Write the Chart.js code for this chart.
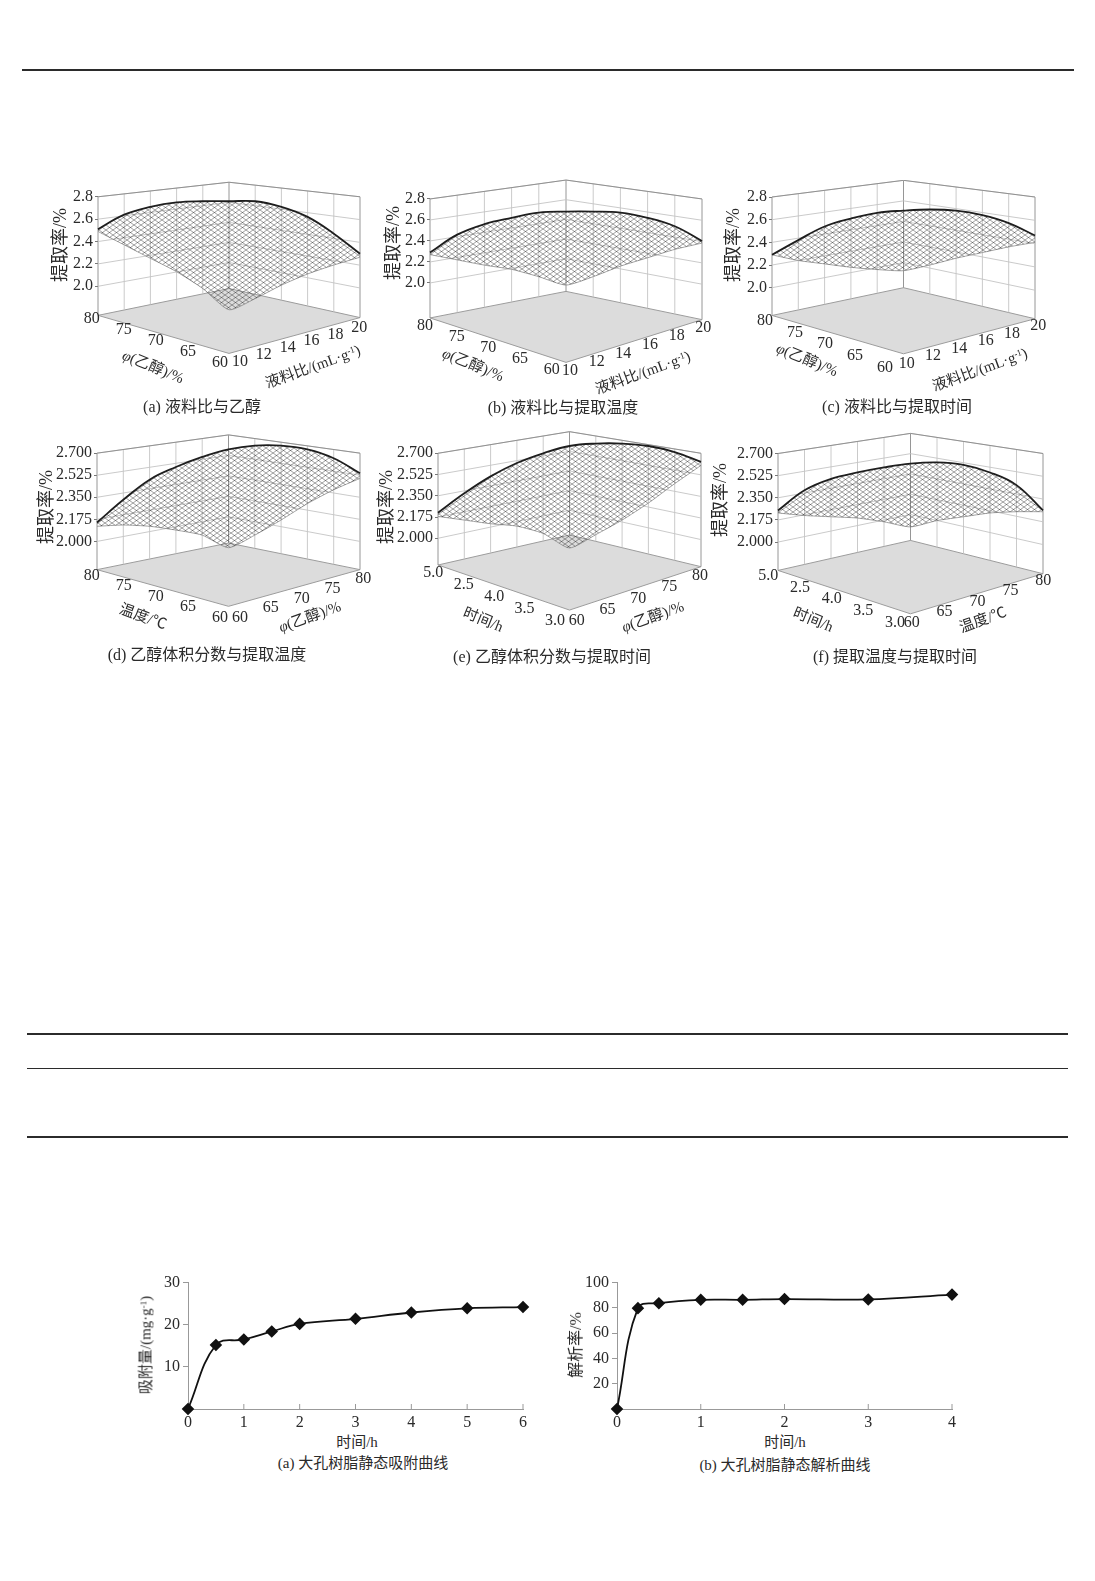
<!DOCTYPE html>
<html>
<head>
<meta charset="utf-8">
<script src="https://cdn.jsdelivr.net/npm/chart.js@4.4.1/dist/chart.umd.min.js"></script>
<style>
  body { margin: 0; background: #fff; }
  #page { position: relative; width: 1095px; height: 1581px; overflow: hidden; background: #fff;
          font-family: "Liberation Serif", "Noto Sans CJK SC", serif; color: #2a2a2a; }
  #page canvas { position: absolute; }
  .t { position: absolute; white-space: nowrap; line-height: 1; }
  .t sup { font-size: 0.6em; vertical-align: 0.5em; }
  .rule { position: absolute; background: #2b2b2b; }
</style>
</head>
<body>
<div id="page"></div>
<script>
// ---- response surface panels (a)-(f) ----
// path along the near floor edges: left axis -> front corner -> right axis
var edgePath = ["L0", "L1", "L2", "L3", "L4", "C", "R1", "R2", "R3", "R4", "R5"];
var zTicks1 = [2.0, 2.2, 2.4, 2.6, 2.8];
var zTicks2 = [2.0, 2.175, 2.35, 2.525, 2.7];

// surface silhouette (top) and near edge (front)
var topA = [2.51, 2.64, 2.71, 2.75, 2.76, 2.76, 2.76, 2.71, 2.62, 2.47, 2.29];
var frontA = [2.49, 2.37, 2.25, 2.13, 1.98, 1.79, 1.89, 2.01, 2.11, 2.19, 2.26];
var topB = [2.29, 2.46, 2.56, 2.62, 2.67, 2.68, 2.68, 2.67, 2.62, 2.54, 2.40];
var frontB = [2.27, 2.22, 2.17, 2.13, 2.06, 1.98, 2.06, 2.16, 2.24, 2.32, 2.38];
var topC = [2.29, 2.42, 2.54, 2.61, 2.66, 2.68, 2.69, 2.68, 2.64, 2.57, 2.46];
var frontC = [2.29, 2.24, 2.21, 2.18, 2.16, 2.15, 2.20, 2.26, 2.31, 2.36, 2.40];
var topD = [2.15, 2.33, 2.49, 2.59, 2.67, 2.73, 2.76, 2.76, 2.73, 2.66, 2.54];
var frontD = [2.12, 2.13, 2.12, 2.09, 2.05, 1.95, 2.05, 2.17, 2.30, 2.41, 2.50];
var topE = [2.21, 2.37, 2.51, 2.62, 2.70, 2.76, 2.78, 2.78, 2.76, 2.71, 2.63];
var frontE = [2.18, 2.15, 2.12, 2.10, 2.04, 1.92, 2.03, 2.15, 2.29, 2.45, 2.60];
var topF = [2.25, 2.41, 2.50, 2.55, 2.59, 2.62, 2.63, 2.61, 2.55, 2.45, 2.25];
var frontF = [2.23, 2.21, 2.20, 2.19, 2.16, 2.12, 2.17, 2.20, 2.23, 2.24, 2.24];

// floor axis tick labels
var ethanolDown = ["80", "75", "70", "65", "60"];
var ethanolUp = ["60", "65", "70", "75", "80"];
var ratioUp = ["10", "12", "14", "16", "18", "20"];
var tempDown = ["80", "75", "70", "65", "60"];
var tempUp = ["60", "65", "70", "75", "80"];
var timeLabels = ["5.0", "2.5", "4.0", "3.5", "3.0"];

// ---- static adsorption / desorption curves ----
var adsTime = [0, 0.5, 1, 1.5, 2, 3, 4, 5, 6];
var adsAmount = [0, 15.2, 16.5, 18.4, 20.2, 21.4, 22.9, 23.9, 24.2];
var desTime = [0, 0.25, 0.5, 1, 1.5, 2, 3, 4];
var desRate = [0, 79.8, 83.7, 86.4, 86.4, 87.0, 86.7, 90.5];

var page = document.getElementById("page");
Chart.defaults.font.family = "'Liberation Serif', 'Noto Sans CJK SC', serif";
Chart.defaults.color = "#2a2a2a";

function addText(html, x, y, size, rot) {
  var d = document.createElement("div");
  d.className = "t";
  d.innerHTML = html;
  d.style.left = x + "px";
  d.style.top = y + "px";
  d.style.fontSize = size + "px";
  d.style.transform = "translate(-50%,-50%)" + (rot ? " rotate(" + rot + "deg)" : "");
  page.appendChild(d);
}

function addRule(x1, x2, y, h) {
  var d = document.createElement("div");
  d.className = "rule";
  d.style.left = x1 + "px";
  d.style.width = (x2 - x1) + "px";
  d.style.top = y + "px";
  d.style.height = h + "px";
  page.appendChild(d);
}

function addCanvas(left, top, w, h) {
  var c = document.createElement("canvas");
  c.width = w;
  c.height = h;
  c.style.left = left + "px";
  c.style.top = top + "px";
  c.style.width = w + "px";
  c.style.height = h + "px";
  page.appendChild(c);
  return c;
}

// labels spread evenly between two centres
function placeRow(labels, from, to, size) {
  var n = labels.length - 1;
  labels.forEach(function (s, i) {
    addText(s, from[0] + (to[0] - from[0]) * i / n, from[1] + (to[1] - from[1]) * i / n, size, 0);
  });
}

// crosshatch used for the wire mesh
function meshPattern() {
  var c = document.createElement("canvas");
  c.width = 7;
  c.height = 5;
  var g = c.getContext("2d");
  g.strokeStyle = "rgba(45,45,45,0.7)";
  g.lineWidth = 0.65;
  g.beginPath();
  g.moveTo(0, 0); g.lineTo(7, 5);
  g.moveTo(0, 5); g.lineTo(7, 0);
  g.stroke();
  return g.createPattern(c, "repeat");
}

// floor plane and back walls of the 3D box
var box3d = {
  id: "box3d",
  beforeDatasetsDraw: function (chart, args, o) {
    var ctx = chart.ctx, xs = chart.scales.x, ys = chart.scales.y;
    var n = chart.data.labels.length - 1, mid = n / 2;
    var X = function (i) { return xs.getPixelForValue(i); };
    var Y = function (v) { return ys.getPixelForValue(v); };
    ctx.save();
    // floor
    ctx.beginPath();
    ctx.moveTo(X(0), Y(o.floor.L));
    ctx.lineTo(X(mid), Y(o.floor.F));
    ctx.lineTo(X(n), Y(o.floor.R));
    ctx.lineTo(X(mid), Y(o.floor.B));
    ctx.closePath();
    ctx.fillStyle = "#dcdcdc";
    ctx.fill();
    ctx.strokeStyle = "#9c9c9c";
    ctx.lineWidth = 1;
    ctx.stroke();
    // wall verticals
    var botL = Y(o.floor.L), botB = Y(o.floor.B), botR = Y(o.floor.R);
    var topL = Y(o.wall.L), topB = Y(o.wall.B), topR = Y(o.wall.R);
    for (var i = 0; i <= n; i++) {
      var t = i <= mid ? i / mid : (i - mid) / mid;
      var yb = i <= mid ? botL + (botB - botL) * t : botB + (botR - botB) * t;
      var yt = i <= mid ? topL + (topB - topL) * t : topB + (topR - topB) * t;
      ctx.beginPath();
      ctx.moveTo(X(i), yb);
      ctx.lineTo(X(i), yt);
      ctx.strokeStyle = (i === 0 || i === mid || i === n) ? "#8a8a8a" : "#c4c4c4";
      ctx.lineWidth = 0.9;
      ctx.stroke();
    }
    // wall horizontals at each z tick, plus the top edge
    var levels = o.ticks.concat([o.wall.L]);
    levels.forEach(function (z, k) {
      var pL = Y(z);
      var f = (botL - pL) / (botL - topL);
      var pB = botB + f * (topB - botB);
      var pR = botR + f * (topR - botR);
      ctx.beginPath();
      ctx.moveTo(X(0), pL);
      ctx.lineTo(X(mid), pB);
      ctx.lineTo(X(n), pR);
      ctx.strokeStyle = k === levels.length - 1 ? "#8a8a8a" : "#c4c4c4";
      ctx.lineWidth = 0.9;
      ctx.stroke();
    });
    ctx.restore();
  }
};

var panels = [
  { top: topA, front: frontA, ticks: zTicks1, dec: 1, plot: [98, 360, 180, 358.5], z: [1.35, 2.95],
    floor: { L: 1.74, F: 1.40, R: 1.72, B: 1.98 }, wall: { L: 2.8, B: 2.93, R: 2.8 },
    left: [ethanolDown, [91.7, 318.3], [220, 361.7]], right: [ratioUp, [240, 360.7], [359.3, 326.7]],
    lt: ["<i>φ</i>(乙醇)/%", 153, 367, 22], rt: ["液料比/(mL·g<sup>-1</sup>)", 313, 367, -20],
    yt: [60, 245], cap: ["(a) 液料比与乙醇", 202, 407] },
  { top: topB, front: frontB, ticks: zTicks1, dec: 1, plot: [430, 702, 179.3, 367.3], z: [1.20, 2.99],
    floor: { L: 1.667, F: 1.244, R: 1.651, B: 1.92 }, wall: { L: 2.8, B: 2.98, R: 2.8 },
    left: [ethanolDown, [425, 325], [551.7, 369.3]], right: [ratioUp, [570, 370], [703.3, 326.7]],
    lt: ["<i>φ</i>(乙醇)/%", 473, 365, 22], rt: ["液料比/(mL·g<sup>-1</sup>)", 643, 373, -20],
    yt: [393, 243], cap: ["(b) 液料比与提取温度", 563, 408] },
  { top: topC, front: frontC, ticks: zTicks1, dec: 1, plot: [771.7, 1035, 179.7, 357.5], z: [1.38, 2.95],
    floor: { L: 1.755, F: 1.417, R: 1.726, B: 2.0 }, wall: { L: 2.8, B: 2.947, R: 2.8 },
    left: [ethanolDown, [765, 320], [885, 366.7]], right: [ratioUp, [906.7, 362.7], [1038.3, 325]],
    lt: ["<i>φ</i>(乙醇)/%", 807, 360, 22], rt: ["液料比/(mL·g<sup>-1</sup>)", 980, 370, -20],
    yt: [733, 245], cap: ["(c) 液料比与提取时间", 897, 407] },
  { top: topD, front: frontD, ticks: zTicks2, dec: 3, plot: [97.3, 360, 433.1, 612.4], z: [1.44, 2.86],
    floor: { L: 1.776, F: 1.485, R: 1.776, B: 1.987 }, wall: { L: 2.7, B: 2.845, R: 2.7 },
    left: [tempDown, [91.7, 575], [220, 616.7]], right: [ethanolUp, [240, 616.7], [363.3, 578.3]],
    lt: ["温度/℃", 143, 617, 20], rt: ["<i>φ</i>(乙醇)/%", 310, 617, -20],
    yt: [46, 507], cap: ["(d) 乙醇体积分数与提取温度", 207, 655] },
  { top: topE, front: frontE, ticks: zTicks2, dec: 3, plot: [438.3, 701.7, 429.1, 616], z: [1.36, 2.90],
    floor: { L: 1.78, F: 1.409, R: 1.766, B: 2.027 }, wall: { L: 2.7, B: 2.878, R: 2.7 },
    left: [timeLabels, [433.3, 571.7], [555, 620]], right: [ethanolUp, [576.7, 620], [700, 575]],
    lt: ["时间/h", 483, 620, 22], rt: ["<i>φ</i>(乙醇)/%", 653, 617, -20],
    yt: [386, 507], cap: ["(e) 乙醇体积分数与提取时间", 552, 657] },
  { top: topF, front: frontF, ticks: zTicks2, dec: 3, plot: [778.3, 1043.3, 431.9, 617.5], z: [1.40, 2.87],
    floor: { L: 1.776, F: 1.433, R: 1.75, B: 2.013 }, wall: { L: 2.7, B: 2.859, R: 2.7 },
    left: [timeLabels, [768.3, 575], [895, 621.7]], right: [tempUp, [911.7, 621.7], [1043.3, 580]],
    lt: ["时间/h", 813, 620, 22], rt: ["温度/℃", 983, 620, -20],
    yt: [720, 500], cap: ["(f) 提取温度与提取时间", 895, 657] }
];

var mesh = meshPattern();
var AXW = 48;

panels.forEach(function (p) {
  var w = Math.round(p.plot[1] - p.plot[0]) + AXW + 6;
  var h = Math.round(p.plot[3] - p.plot[2]);
  var cv = addCanvas(Math.round(p.plot[0] - AXW), Math.round(p.plot[2]), w, h);
  new Chart(cv.getContext("2d"), {
    type: "line",
    data: {
      labels: edgePath,
      datasets: [
        {
          data: p.top,
          borderColor: "#1e1e1e",
          borderWidth: 1.8,
          fill: "+1",
          backgroundColor: mesh,
          pointRadius: 0,
          tension: 0.4,
        },
        {
          data: p.front,
          borderColor: "#8a8a8a",
          borderWidth: 0.8,
          fill: false,
          pointRadius: 0,
          tension: 0.2,
        },
      ],
    },
    options: {
      responsive: false,
      animation: false,
      layout: { padding: { top: 0, bottom: 0, left: 0, right: 6 } },
      plugins: {
        legend: { display: false },
        tooltip: { enabled: false },
        box3d: { floor: p.floor, wall: p.wall, ticks: p.ticks },
      },
      scales: {
        x: { display: false },
        y: {
          min: p.z[0],
          max: p.z[1],
          afterBuildTicks: function (scale) {
            scale.ticks = p.ticks.map(function (v) { return { value: v }; });
          },
          afterFit: function (scale) {
            scale.width = AXW;
            scale.paddingTop = 0;
            scale.paddingBottom = 0;
          },
          ticks: {
            font: { size: 16 },
            color: "#2a2a2a",
            padding: 2,
            callback: function (v) { return Number(v).toFixed(p.dec); },
          },
          grid: { drawOnChartArea: false, tickLength: 3, color: "#777" },
          border: { display: false },
        },
      },
    },
    plugins: [box3d],
  });

  placeRow(p.left[0], p.left[1], p.left[2], 16);
  placeRow(p.right[0], p.right[1], p.right[2], 16);
  addText(p.lt[0], p.lt[1], p.lt[2], 15, p.lt[3]);
  addText(p.rt[0], p.rt[1], p.rt[2], 15, p.rt[3]);
  addText("提取率/%", p.yt[0], p.yt[1], 18, -90);
  addText(p.cap[0], p.cap[1], p.cap[2], 16, 0);
});

// inner tick marks on the time axis
var innerTicks = {
  id: "innerTicks",
  afterDraw: function (chart) {
    var xs = chart.scales.x, ctx = chart.ctx;
    ctx.save();
    ctx.strokeStyle = "#999";
    ctx.lineWidth = 1;
    xs.ticks.forEach(function (t) {
      if (t.value === 0) return;
      var x = xs.getPixelForValue(t.value);
      ctx.beginPath();
      ctx.moveTo(x, xs.top);
      ctx.lineTo(x, xs.top - 5);
      ctx.stroke();
    });
    ctx.restore();
  }
};

function curveChart(left, xs, ys, xMax, yMax, yStep) {
  var cv = addCanvas(left, 1270, 412, 161);
  new Chart(cv.getContext("2d"), {
    type: "line",
    data: {
      datasets: [
        {
          data: xs.map(function (t, i) { return { x: t, y: ys[i] }; }),
          borderColor: "#111",
          borderWidth: 1.8,
          tension: 0.4,
          clip: false,
          pointStyle: "rectRot",
          pointRadius: 5,
          pointBackgroundColor: "#111",
          pointBorderColor: "#111",
        },
      ],
    },
    options: {
      responsive: false,
      animation: false,
      layout: { padding: { top: 12, right: 17, left: 0, bottom: 0 } },
      plugins: { legend: { display: false }, tooltip: { enabled: false } },
      scales: {
        x: {
          type: "linear",
          min: 0,
          max: xMax,
          afterFit: function (scale) { scale.height = 22; },
          ticks: { stepSize: 1, font: { size: 16 }, color: "#2a2a2a", padding: 4, maxRotation: 0 },
          grid: { drawOnChartArea: false, drawTicks: false, color: "#999" },
          border: { color: "#999", width: 1 },
        },
        y: {
          min: 0,
          max: yMax,
          afterFit: function (scale) { scale.width = 60; },
          ticks: {
            stepSize: yStep,
            font: { size: 16 },
            color: "#2a2a2a",
            padding: 3,
            callback: function (v) { return v === 0 ? "" : v; },
          },
          grid: { drawOnChartArea: false, tickLength: 5, color: "#999" },
          border: { color: "#999", width: 1 },
        },
      },
    },
    plugins: [innerTicks],
  });
}

curveChart(128, adsTime, adsAmount, 6, 30, 10);
curveChart(557, desTime, desRate, 4, 100, 20);

addText("吸附量/(mg·g<sup>-1</sup>)", 146, 1345, 15, -90);
addText("解析率/%", 576, 1345, 16, -90);
addText("时间/h", 357, 1442, 15, 0);
addText("时间/h", 785, 1442, 15, 0);
addText("(a) 大孔树脂静态吸附曲线", 363, 1463, 15, 0);
addText("(b) 大孔树脂静态解析曲线", 785, 1465, 15, 0);

// page rules
addRule(22, 1074, 69, 1.5);
addRule(27, 1068, 1033, 2);
addRule(27, 1068, 1068, 1);
addRule(27, 1068, 1136, 1.5);
</script>
</body>
</html>
